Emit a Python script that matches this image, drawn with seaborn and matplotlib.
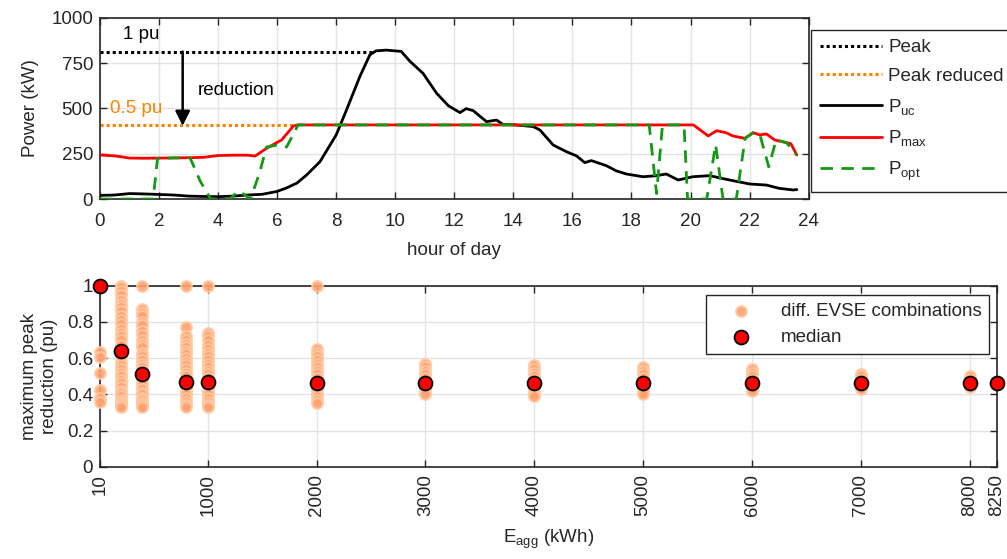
import matplotlib
matplotlib.use('Agg')
import pandas as pd
import matplotlib.pyplot as plt
import seaborn as sns

# ---- top plot: daily power profiles (kW) ----
hours_uc = [0, 0.5, 1, 1.5, 2, 2.5, 3, 3.5, 4, 4.5, 5, 5.5, 6, 6.33, 6.67, 7, 7.45,
            8, 8.35, 8.8, 9.14, 9.35, 9.7, 10.2, 10.5, 10.94, 11.4, 11.8, 12.19,
            12.4, 12.64, 13.09, 13.43, 13.65, 14, 14.67, 14.9, 15.35, 15.8, 16.14,
            16.42, 16.64, 17.15, 17.49, 17.83, 18.39, 18.8, 19.18, 19.58, 20.08,
            20.65, 21.2, 22.0, 22.57, 23.0, 23.47, 23.6]
p_uc = [20, 22, 30, 28, 25, 22, 16, 14, 13, 16, 22, 26, 42, 62, 88, 133, 206,
        354, 492, 676, 796, 818, 822, 815, 760, 694, 584, 515, 477,
        499, 488, 427, 436, 412, 410, 400, 381, 298, 261, 238,
        201, 212, 184, 155, 138, 123, 128, 138, 105, 123,
        129, 109, 83, 77, 59, 50, 52]

hours_max = [0, 0.5, 1, 1.5, 2, 2.5, 3, 3.5, 4, 4.5, 5, 5.25, 5.64, 6.15, 6.55,
             6.7, 14, 20.1, 20.6, 20.88, 21.2, 21.44, 21.84, 22.12, 22.34, 22.57,
             22.85, 23.25, 23.4, 23.6]
p_max = [243, 238, 226, 225, 226, 227, 228, 230, 240, 242, 242, 237, 280, 326, 403,
         409, 409, 409, 348, 377, 366, 348, 335, 366, 354, 359,
         326, 311, 305, 243]

hours_opt = [0, 1.8, 1.95, 3.05, 3.39, 3.75, 4.4, 4.7, 5.1, 5.4, 5.64, 5.98, 6.32,
             6.71, 18.6, 18.85, 19.05, 19.78, 19.9, 20.55, 20.85, 21.1, 21.55,
             21.85, 22.12, 22.35, 22.65, 22.9, 23.25, 23.6]
p_opt = [0, 0, 225, 228, 100, 0, 0, 45, 0, 143, 287, 297, 287,
         409, 409, 30, 409, 409, 0, 0, 300, 0, 0,
         335, 366, 354, 178, 326, 311, 243]

peak_kw = 814
peak_reduced_kw = 409
peak_end_h = 9.2
reduced_end_h = 6.7

# ---- bottom plot: max peak reduction per aggregated energy ----
r_10 = [1.0, 0.635, 0.605, 0.515, 0.425, 0.38, 0.355]
r_200 = [1.0, 0.99, 0.97, 0.95, 0.92, 0.9, 0.88, 0.86, 0.83, 0.81, 0.79, 0.76,
         0.74, 0.72, 0.7, 0.67, 0.65, 0.63, 0.61, 0.58, 0.56, 0.54, 0.52, 0.5,
         0.48, 0.46, 0.44, 0.42, 0.41, 0.39, 0.37, 0.36, 0.35, 0.34, 0.33]
r_400 = [1.0, 0.87, 0.85, 0.83, 0.8, 0.78, 0.75, 0.73, 0.7, 0.68, 0.66, 0.63,
         0.61, 0.59, 0.57, 0.55, 0.53, 0.51, 0.49, 0.47, 0.45, 0.43, 0.41, 0.4,
         0.38, 0.37, 0.35, 0.34, 0.33]
r_800 = [1.0, 0.77, 0.72, 0.7, 0.68, 0.66, 0.64, 0.62, 0.6, 0.58, 0.56, 0.54,
         0.52, 0.5, 0.48, 0.46, 0.44, 0.42, 0.4, 0.38, 0.36, 0.34, 0.33]
r_1000 = [1.0, 0.74, 0.72, 0.7, 0.67, 0.65, 0.63, 0.61, 0.59, 0.57, 0.55, 0.53,
          0.51, 0.49, 0.47, 0.45, 0.43, 0.41, 0.4, 0.38, 0.36, 0.34, 0.33]
r_2000 = [1.0, 0.65, 0.63, 0.61, 0.59, 0.57, 0.55, 0.53, 0.51, 0.49, 0.47, 0.45,
          0.43, 0.41, 0.39, 0.37, 0.35]
r_3000 = [0.57, 0.55, 0.53, 0.51, 0.49, 0.47, 0.45, 0.43, 0.41, 0.4]
r_4000 = [0.56, 0.54, 0.52, 0.5, 0.48, 0.46, 0.44, 0.42, 0.4, 0.39]
r_5000 = [0.55, 0.53, 0.51, 0.49, 0.47, 0.45, 0.43, 0.41, 0.4]
r_6000 = [0.54, 0.52, 0.5, 0.48, 0.46, 0.44, 0.42]
r_7000 = [0.51, 0.5, 0.48, 0.46, 0.44, 0.43]
r_8000 = [0.5, 0.48, 0.46, 0.44]
r_8250 = [0.47]

e_levels = [10, 200, 400, 800, 1000, 2000, 3000, 4000, 5000, 6000, 7000, 8000, 8250]
groups = [r_10, r_200, r_400, r_800, r_1000, r_2000, r_3000, r_4000, r_5000,
          r_6000, r_7000, r_8000, r_8250]
median_vals = [1.0, 0.638, 0.512, 0.47, 0.47, 0.462, 0.462, 0.462, 0.462, 0.462,
               0.462, 0.462, 0.462]

e_ticks = [10, 1000, 2000, 3000, 4000, 5000, 6000, 7000, 8000, 8250]

rows = []
for e, vals in zip(e_levels, groups):
    for v in vals:
        rows.append({'E': e, 'r': v})
evse = pd.DataFrame(rows)
med = pd.DataFrame({'E': e_levels, 'r': median_vals})

sns.set_theme(style='whitegrid')
plt.rcParams['font.family'] = ['Liberation Sans', 'DejaVu Sans']
plt.rcParams['mathtext.fontset'] = 'custom'
plt.rcParams['mathtext.rm'] = 'Liberation Sans'
plt.rcParams['mathtext.it'] = 'Liberation Sans:italic'
fs = 13.5
dark = '#262626'
grid_c = '#e3e3e3'
orange = '#ff8000'
green = '#149914'

fig = plt.figure(figsize=(10.07, 5.59), dpi=100)
ax1 = fig.add_axes([0.0993, 0.644, 0.7037, 0.324])
ax2 = fig.add_axes([0.0993, 0.165, 0.8907, 0.324])

# top
ax1.plot([0, peak_end_h], [peak_kw, peak_kw], color='black', lw=2.2,
         ls=(0, (1, 1)), label='Peak')
ax1.plot([0, reduced_end_h], [peak_reduced_kw, peak_reduced_kw], color=orange,
         lw=2.2, ls=(0, (1, 1)), label='Peak reduced')
sns.lineplot(x=hours_uc, y=p_uc, ax=ax1, color='black', lw=2.0,
             label='P$_{\\rm uc}$', zorder=3)
sns.lineplot(x=hours_max, y=p_max, ax=ax1, color='red', lw=2.0,
             label='P$_{\\rm max}$', zorder=4)
sns.lineplot(x=hours_opt, y=p_opt, ax=ax1, color=green, lw=2.0,
             label='P$_{\\rm opt}$', zorder=5)
ax1.lines[-1].set_linestyle((0, (4.5, 3)))

ax1.annotate('', xy=(2.8, peak_reduced_kw - 5), xytext=(2.8, peak_kw),
             arrowprops=dict(arrowstyle='-|>', color='black', lw=1.8,
                             mutation_scale=22, shrinkA=0, shrinkB=0))
ax1.text(0.78, 906, '1 pu', fontsize=fs, color='black', va='center')
ax1.text(0.34, 497, '0.5 pu', fontsize=fs, color=orange, va='center')
ax1.text(3.32, 597, 'reduction', fontsize=fs, color='black', va='center')

ax1.set_xlim(0, 24)
ax1.set_ylim(0, 1000)
ax1.set_xticks(range(0, 25, 2))
ax1.set_yticks([0, 250, 500, 750, 1000])
ax1.set_xlabel('hour of day', fontsize=fs, color=dark, labelpad=9)
ax1.set_ylabel('Power (kW)', fontsize=fs, color=dark, labelpad=9)
h, l = ax1.get_legend_handles_labels()
ax1.get_legend().remove()
fig.legend(h, l, loc='upper left', bbox_to_anchor=(0.805, 0.947),
           fontsize=fs, frameon=True, fancybox=False, framealpha=1,
           edgecolor=dark, handlelength=3.3, handletextpad=0.35,
           borderpad=0.5, labelspacing=0.62, borderaxespad=0)

# bottom
sns.scatterplot(data=evse, x='E', y='r', ax=ax2, s=60, color='#ffa272',
                edgecolor='#ffc9a0', linewidth=1.5, alpha=0.9,
                label='diff. EVSE combinations', zorder=3, clip_on=False)
sns.scatterplot(data=med, x='E', y='r', ax=ax2, s=100, color='red',
                edgecolor='black', linewidth=1.3, label='median', zorder=5,
                clip_on=False)
ax2.set_xlim(10, 8250)
ax2.set_ylim(0, 1)
ax2.set_xticks(e_ticks)
ax2.set_xticklabels([str(t) for t in e_ticks], rotation=90)
ax2.set_yticks([0, 0.2, 0.4, 0.6, 0.8, 1])
ax2.set_yticklabels(['0', '0.2', '0.4', '0.6', '0.8', '1'])
ax2.set_xlabel('E$_{\\rm agg}$ (kWh)', fontsize=fs, color=dark, labelpad=9)
ax2.set_ylabel('maximum peak\nreduction (pu)', fontsize=fs, color=dark,
               labelpad=6, linespacing=1.3)
ax2.legend(loc='upper right', bbox_to_anchor=(0.991, 0.949), fontsize=fs,
           frameon=True, fancybox=False, framealpha=1, edgecolor=dark,
           handlelength=3.0, handletextpad=0.6, borderpad=0.4,
           labelspacing=0.5, borderaxespad=0)

for ax in (ax1, ax2):
    ax.grid(True, color=grid_c, lw=1.0)
    ax.set_axisbelow(True)
    for sp in ax.spines.values():
        sp.set_visible(True)
        sp.set_color(dark)
        sp.set_linewidth(1.2)
    ax.tick_params(direction='in', length=5, width=1.0, color=dark,
                   labelsize=fs, labelcolor=dark, top=True, right=True,
                   bottom=True, left=True, pad=5)
ax1.tick_params(axis='x', pad=10)

fig.savefig('out.png', dpi=100)
